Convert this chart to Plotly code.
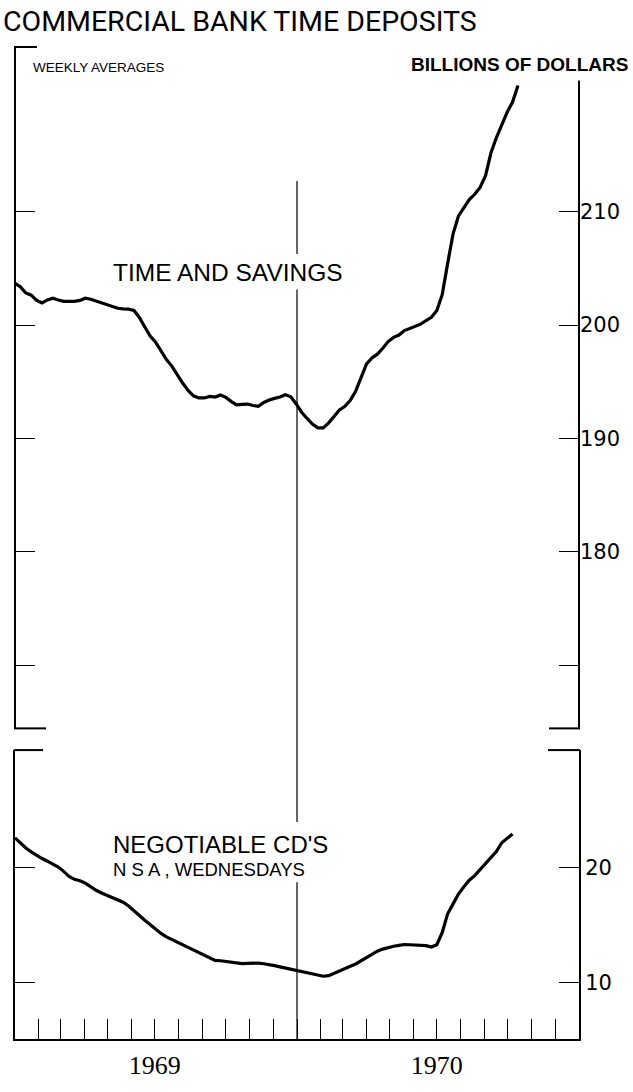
import pandas as pd
import plotly.graph_objects as go

# ---------------- data ----------------
start_date = "1969-01-01"
time_savings = [
    203.68, 203.37, 202.83, 202.63, 202.17, 201.95, 202.22, 202.36, 202.21, 202.09,
    202.09, 202.09, 202.17, 202.37, 202.27, 202.11, 201.93, 201.74, 201.6, 201.48,
    201.43, 201.4, 201.28, 200.67, 199.83, 199.02, 198.49, 197.76, 196.96, 196.38,
    195.59, 194.89, 194.23, 193.76, 193.57, 193.57, 193.7, 193.65, 193.83, 193.62,
    193.25, 192.97, 193.0, 193.03, 192.9, 192.84, 193.17, 193.39, 193.53, 193.65,
    193.86, 193.68, 193.04, 192.31, 191.76, 191.27, 190.93, 190.93, 191.37, 191.98,
    192.51, 192.83, 193.36, 194.17, 195.36, 196.57, 197.1, 197.43, 197.95, 198.54,
    198.91, 199.12, 199.51, 199.69, 199.83, 200.08, 200.4, 200.68, 201.28, 202.7,
    205.44, 208.04, 209.62, 210.37, 211.06, 211.53, 212.14, 213.17, 215.17, 216.52,
    217.7, 218.76, 219.66, 221.13,
]
negotiable_cds = [
    22.56, 22.11, 21.68, 21.35, 21.03, 20.77, 20.54, 20.29, 20.03, 19.66,
    19.21, 18.97, 18.85, 18.64, 18.32, 18.02, 17.79, 17.59, 17.42, 17.26,
    16.99, 16.66, 16.29, 15.84, 15.42, 15.03, 14.66, 14.28, 13.98, 13.76,
    13.54, 13.32, 13.09, 12.88, 12.62, 12.38, 12.15, 11.94, 11.91, 11.86,
    11.79, 11.71, 11.66, 11.69, 11.73, 11.7, 11.65, 11.6, 11.49, 11.38,
    11.27, 11.19, 11.1, 10.99, 10.89, 10.78, 10.68, 10.57, 10.62, 10.84,
    11.07, 11.25, 11.44, 11.63, 11.89, 12.16, 12.44, 12.74, 12.92, 13.07,
    13.17, 13.25, 13.32, 13.3, 13.26, 13.22, 13.22, 13.1, 13.3, 14.36,
    15.98, 16.84, 17.69, 18.32, 18.89, 19.29, 19.79, 20.36, 20.86, 21.38,
    22.14, 22.56, 22.9,
]
top_ticks = [170, 180, 190, 200, 210]
top_tick_labels = ["", "180", "190", "200", "210"]
bottom_ticks = [10, 20]
bottom_tick_labels = ["10", "20"]
year_labels = {"1969-07-01": "1969", "1970-07-01": "1970"}
divider_date = "1970-01-01"

dates_ts = pd.date_range(start_date, periods=len(time_savings), freq="7D")
dates_cd = pd.date_range(start_date, periods=len(negotiable_cds), freq="7D")
month_ticks = pd.date_range("1969-02-01", "1970-12-01", freq="MS")
month_tick_text = [year_labels.get(d.strftime("%Y-%m-%d"), "") for d in month_ticks]

# ---------------- layout geometry (pixels) ----------------
W, H = 633, 1092
L, R, T, B = 15, 579, 47, 1053


def px(X):
    return (X - L) / (R - L)


def py(Y):
    return (B - Y) / (B - T)


top_dom = [py(738), 1.0]
bot_dom = [0.0, py(760)]
top_range = [164.43, 224.52]
bot_range = [5.13, 30.17]
x_range = ["1969-01-01", "1971-01-01"]

FONT = "Liberation Sans, Arial, sans-serif"
TITLEFONT = "Roboto, Liberation Sans, sans-serif"
NUMFONT = "DejaVu Sans, sans-serif"

fig = go.Figure()
fig.add_trace(go.Scatter(x=dates_ts, y=time_savings, mode="lines",
                         line=dict(color="black", width=3.2), xaxis="x", yaxis="y",
                         showlegend=False, hoverinfo="skip"))
fig.add_trace(go.Scatter(x=dates_cd, y=negotiable_cds, mode="lines",
                         line=dict(color="black", width=3.2), xaxis="x2", yaxis="y2",
                         showlegend=False, hoverinfo="skip"))

common_y = dict(showgrid=False, zeroline=False, ticks="inside", tickcolor="black",
                tickwidth=1.3, linecolor="black", linewidth=2, side="right",
                mirror="ticks", ticklabelstandoff=0,
                tickfont=dict(family=NUMFONT, size=21, color="black"))

fig.update_layout(
    width=W, height=H,
    margin=dict(l=L, r=W - R, t=T, b=H - B),
    paper_bgcolor="white", plot_bgcolor="white",
    font=dict(family=FONT, color="black"),
    xaxis=dict(domain=[0, 1], anchor="y", matches="x2", type="date", range=x_range,
               visible=False),
    xaxis2=dict(domain=[0, 1], anchor="y2", type="date", range=x_range,
                tickmode="array", tickvals=list(month_ticks), ticktext=month_tick_text,
                ticks="inside", ticklen=20, tickwidth=1.3, tickcolor="black",
                showline=True, linecolor="black", linewidth=2, showgrid=False,
                zeroline=False, ticklabelstandoff=2,
                tickfont=dict(family="Liberation Serif, serif", size=26, color="black")),
    yaxis=dict(domain=top_dom, anchor="x", range=top_range, tickmode="array",
               tickvals=top_ticks, ticktext=top_tick_labels, ticklen=20,
               showline=False, **common_y),
    yaxis2=dict(domain=bot_dom, anchor="x2", range=bot_range, tickmode="array",
                tickvals=bottom_ticks, ticktext=bottom_tick_labels, ticklen=20,
                showline=True, **common_y),
)


def hline(x0, x1, y, w=2):
    fig.add_shape(type="line", xref="paper", yref="paper", x0=px(x0), x1=px(x1),
                  y0=py(y), y1=py(y), line=dict(color="black", width=w))


def vline_px(x, y0, y1, w=2):
    fig.add_shape(type="line", xref="paper", yref="paper", x0=px(x), x1=px(x),
                  y0=py(y0), y1=py(y1), line=dict(color="black", width=w))


hline(14, 37, 47)          # top-left corner
hline(14, 46, 738)         # bottom-left of upper panel
hline(549, 580, 738)       # bottom-right of upper panel
hline(14, 43, 760)         # top-left of lower panel
hline(548, 580, 760)       # top-right of lower panel
vline_px(15, 47, 738)      # left axis of upper panel
vline_px(579, 81, 738)     # right axis of upper panel

# divider between 1969 and 1970 (broken around the labels)
for y0, y1 in [(183, 257), (293, 833), (894, 1053)]:
    fig.add_shape(type="line", xref="x2", yref="paper", x0=divider_date, x1=divider_date,
                  y0=py(y0), y1=py(y1), line=dict(color="black", width=1.2))


def label(text, x, y, size, anchor="left", bold=False, family=FONT):
    fig.add_annotation(text=f"<b>{text}</b>" if bold else text, xref="paper", yref="paper",
                       x=px(x), y=py(y), xanchor=anchor, yanchor="middle",
                       showarrow=False, font=dict(family=family, size=size, color="black"))


label("COMMERCIAL BANK TIME DEPOSITS", 1, 21, 28.5, family=TITLEFONT)
label("WEEKLY AVERAGES", 31, 68, 13.5)
label("BILLIONS OF DOLLARS", 630, 65, 19, anchor="right", bold=True)
label("TIME AND SAVINGS", 111, 276, 24.5)
label("NEGOTIABLE CD'S", 111, 856, 24)
label("N S A , WEDNESDAYS", 111, 881, 18.5)

fig.write_html("out.html", config={"displayModeBar": False},
               post_script="document.body.style.margin='0px';"
                           "document.documentElement.style.overflow='hidden';")
